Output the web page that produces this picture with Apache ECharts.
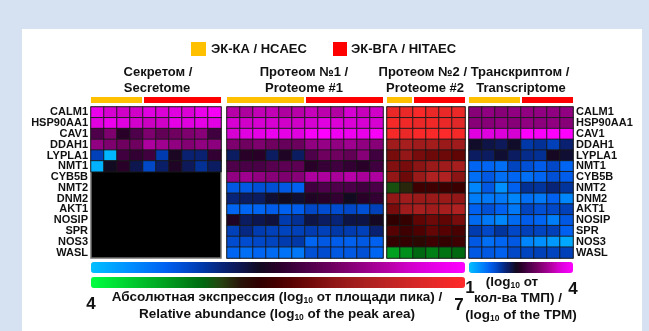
<!DOCTYPE html>
<html>
<head>
<meta charset="utf-8">
<script src="https://cdn.jsdelivr.net/npm/echarts@6/dist/echarts.min.js"></script>
<style>
  html, body { margin: 0; padding: 0; background: #d6e2f2; }
  #chart { position: absolute; left: 0; top: 0; width: 649px; height: 331px; }
</style>
</head>
<body>
<div id="chart"></div>
<script>
// Genes (rows, top to bottom)
const genes = ['CALM1', 'HSP90AA1', 'CAV1', 'DDAH1', 'LYPLA1', 'NMT1', 'CYB5B',
               'NMT2', 'DNM2', 'AKT1', 'NOSIP', 'SPR', 'NOS3', 'WASL'];

// Samples per dataset: HCAEC replicates followed by HITAEC replicates
const secretomeSamples = ['HCAEC-1', 'HCAEC-2', 'HCAEC-3', 'HCAEC-4',
  'HITAEC-1', 'HITAEC-2', 'HITAEC-3', 'HITAEC-4', 'HITAEC-5', 'HITAEC-6'];
const proteome1Samples = ['HCAEC-1', 'HCAEC-2', 'HCAEC-3', 'HCAEC-4', 'HCAEC-5', 'HCAEC-6',
  'HITAEC-1', 'HITAEC-2', 'HITAEC-3', 'HITAEC-4', 'HITAEC-5', 'HITAEC-6'];
const proteome2Samples = ['HCAEC-1', 'HCAEC-2',
  'HITAEC-1', 'HITAEC-2', 'HITAEC-3', 'HITAEC-4'];
const transcriptomeSamples = ['HCAEC-1', 'HCAEC-2', 'HCAEC-3', 'HCAEC-4',
  'HITAEC-1', 'HITAEC-2', 'HITAEC-3', 'HITAEC-4'];

// Number of HCAEC samples in each dataset
const hcaecCounts = [4, 6, 2, 4];

// Secretome, log10 of peak area ('-' = not detected)
const secretome = [
  [6.79, 6.61, 6.55, 6.55, 6.70, 6.64, 6.70, 6.64, 6.79, 6.91],
  [6.70, 6.82, 6.70, 6.58, 6.52, 6.55, 6.76, 6.70, 6.76, 6.73],
  [5.74, 6.04, 5.50, 5.74, 6.04, 5.86, 5.95, 6.04, 6.10, 5.65],
  [6.16, 6.04, 5.95, 5.95, 6.34, 6.25, 6.16, 6.07, 6.16, 6.13],
  [4.84, 4.06, 5.65, 5.56, 5.65, 4.87, 5.41, 5.08, 5.08, 5.56],
  [4.09, 5.35, 5.50, 5.20, 4.78, 5.11, 5.44, 5.17, 4.96, 5.14],
  ['-', '-', '-', '-', '-', '-', '-', '-', '-', '-'],
  ['-', '-', '-', '-', '-', '-', '-', '-', '-', '-'],
  ['-', '-', '-', '-', '-', '-', '-', '-', '-', '-'],
  ['-', '-', '-', '-', '-', '-', '-', '-', '-', '-'],
  ['-', '-', '-', '-', '-', '-', '-', '-', '-', '-'],
  ['-', '-', '-', '-', '-', '-', '-', '-', '-', '-'],
  ['-', '-', '-', '-', '-', '-', '-', '-', '-', '-'],
  ['-', '-', '-', '-', '-', '-', '-', '-', '-', '-']
];

// Proteome #1, log10 of peak area
const proteome1 = [
  [6.40, 6.34, 6.46, 6.46, 6.34, 6.40, 6.49, 6.43, 6.37, 6.61, 6.49, 6.55],
  [6.61, 6.55, 6.61, 6.61, 6.55, 6.55, 6.61, 6.70, 6.64, 6.64, 6.61, 6.61],
  [6.61, 6.70, 6.76, 6.82, 6.76, 6.70, 6.91, 7.00, 6.85, 6.85, 6.79, 6.94],
  [6.04, 5.95, 6.04, 5.95, 5.89, 5.92, 6.16, 6.19, 6.16, 6.25, 6.16, 6.10],
  [5.14, 5.50, 5.50, 5.14, 5.44, 5.14, 5.74, 5.95, 5.95, 5.86, 6.10, 5.65],
  [5.74, 5.71, 5.71, 5.80, 5.83, 5.83, 5.50, 5.59, 5.65, 5.56, 5.50, 5.65],
  [6.16, 6.25, 6.16, 6.10, 6.04, 6.10, 6.34, 6.34, 6.31, 6.40, 6.31, 6.34],
  [4.66, 4.66, 4.72, 4.72, 4.66, 4.60, 5.65, 5.74, 5.74, 5.71, 5.65, 5.71],
  [5.05, 5.14, 5.14, 5.29, 5.35, 5.29, 5.44, 5.50, 5.56, 5.35, 5.50, 5.56],
  [4.57, 4.57, 4.57, 4.63, 4.60, 4.63, 4.78, 4.75, 4.75, 4.78, 4.72, 4.84],
  [5.44, 5.14, 5.20, 5.26, 4.87, 4.96, 5.23, 5.14, 5.05, 5.23, 5.23, 5.38],
  [4.84, 5.02, 4.87, 4.84, 4.81, 4.84, 4.87, 4.84, 4.90, 4.87, 4.84, 5.08],
  [4.75, 4.75, 4.78, 4.81, 4.87, 4.90, 4.57, 4.66, 4.63, 4.60, 4.66, 4.60],
  [4.57, 4.51, 4.57, 4.54, 4.48, 4.45, 4.72, 4.75, 4.66, 4.66, 4.72, 4.57]
];

// Proteome #2, log10 of peak area
const proteome2 = [
  [6.79, 6.79, 6.94, 6.79, 6.79, 6.79],
  [6.91, 6.85, 6.79, 6.85, 6.79, 6.70],
  [6.91, 6.79, 6.94, 6.94, 6.97, 6.91],
  [6.10, 6.16, 6.10, 6.13, 6.04, 6.10],
  [5.80, 5.98, 5.80, 5.74, 5.74, 5.65],
  [5.86, 5.80, 5.92, 6.04, 6.10, 6.16],
  [5.98, 5.74, 6.04, 6.25, 6.25, 5.92],
  [4.99, 5.14, 5.44, 5.44, 5.41, 5.41],
  [5.98, 6.10, 6.04, 6.04, 6.04, 5.98],
  [5.80, 6.10, 6.16, 6.10, 6.16, 6.25],
  [5.35, 5.38, 5.65, 5.74, 5.65, 5.80],
  [5.59, 5.44, 5.53, 5.68, 5.59, 5.50],
  [5.38, 5.38, 5.29, 5.44, 5.38, 5.44],
  [4.60, 4.69, 4.90, 4.78, 4.84, 4.90]
];

// Transcriptome, log10 of TPM
const transcriptome = [
  [3.10, 3.16, 3.10, 3.16, 3.16, 3.16, 3.16, 3.16],
  [3.10, 3.10, 3.16, 3.10, 3.16, 3.13, 3.16, 3.10],
  [3.70, 3.70, 3.67, 3.61, 4.00, 3.94, 4.00, 4.00],
  [2.32, 2.23, 2.17, 2.32, 1.90, 1.96, 1.84, 2.08],
  [2.14, 2.14, 2.29, 2.14, 1.99, 1.96, 2.38, 2.29],
  [1.57, 1.57, 1.51, 1.81, 1.72, 1.63, 1.78, 1.57],
  [1.51, 1.66, 1.51, 1.57, 1.51, 1.57, 1.72, 1.63],
  [1.36, 1.66, 1.30, 1.60, 1.96, 1.93, 2.05, 1.93],
  [1.42, 1.45, 1.45, 1.36, 1.51, 1.45, 1.60, 1.36],
  [1.60, 1.72, 1.60, 1.45, 1.81, 1.72, 1.78, 1.84],
  [1.54, 1.45, 1.36, 1.54, 1.63, 1.57, 1.42, 1.66],
  [1.87, 1.78, 1.93, 1.78, 1.84, 1.81, 1.84, 1.60],
  [1.66, 1.51, 1.57, 1.66, 1.36, 1.30, 1.24, 1.15],
  [1.66, 1.66, 1.60, 1.78, 1.81, 1.84, 1.81, 1.84]
];

// Colour-scale limits
const abundanceRange = [4, 7];
const tpmRange = [1, 4];

// Colour ramps
const blueMagenta = ['#00c0ff', '#00a8ff', '#0090ff', '#0078f8', '#0060f0', '#004cd0', '#0038a8',
  '#082478', '#0e1650', '#120a20', '#280028', '#400040', '#580050', '#700060', '#880078',
  '#a00090', '#b800a8', '#d000c8', '#e000e0', '#f000f0', '#ff00ff'];
const greenRed = ['#00ff40', '#00e838', '#00d030', '#00b828', '#00a020', '#008418', '#006810',
  '#284010', '#281408', '#300000', '#480000', '#600404', '#780c0c', '#901616', '#a01c1c',
  '#b02222', '#c02424', '#d02626', '#e02828', '#f02828', '#ff2a2a'];

const FONT = '"Liberation Sans", Arial, sans-serif';
const HCAEC_COLOR = '#ffc000';
const HITAEC_COLOR = '#ff0000';

const blocks = [
  { samples: secretomeSamples, values: secretome, left: 91, width: 130, bg: '#000' },
  { samples: proteome1Samples, values: proteome1, left: 227, width: 156 },
  { samples: proteome2Samples, values: proteome2, left: 387, width: 78 },
  { samples: transcriptomeSamples, values: transcriptome, left: 469, width: 104 }
];
const gridTop = 107, gridHeight = 151;

function toCells(values) {
  const out = [];
  values.forEach((row, r) => row.forEach((v, c) => out.push([c, r, v])));
  return out;
}

const chart = echarts.init(document.getElementById('chart'), null, { renderer: 'canvas' });

const option = {
  backgroundColor: 'transparent',
  animation: false,
  grid: blocks.map(b => ({
    left: b.left, top: gridTop, width: b.width, height: gridHeight,
    show: true, backgroundColor: b.bg || 'transparent',
    borderColor: '#707070', borderWidth: 1.5, containLabel: false
  })),
  xAxis: blocks.map((b, i) => ({
    type: 'category', gridIndex: i, data: b.samples,
    axisLine: { show: false }, axisTick: { show: false }, axisLabel: { show: false },
    splitLine: { show: false }
  })),
  yAxis: blocks.map((b, i) => ({
    type: 'category', gridIndex: i, data: genes, inverse: true,
    position: i === 3 ? 'right' : 'left',
    axisLine: { show: false }, axisTick: { show: false }, splitLine: { show: false },
    axisLabel: {
      show: i === 0 || i === 3, interval: 0, margin: 3, color: '#111',
      fontFamily: FONT, fontWeight: 'bold', fontSize: 11
    }
  })),
  visualMap: [
    {
      type: 'continuous', seriesIndex: [0, 1], min: abundanceRange[0], max: abundanceRange[1],
      orient: 'horizontal', left: 91, top: 262, itemWidth: 11, itemHeight: 374,
      calculable: false, hoverLink: false, padding: 0, text: null,
      inRange: { color: blueMagenta }
    },
    {
      type: 'continuous', seriesIndex: 2, min: abundanceRange[0], max: abundanceRange[1],
      orient: 'horizontal', left: 91, top: 277, itemWidth: 11, itemHeight: 374,
      calculable: false, hoverLink: false, padding: 0, text: null,
      inRange: { color: greenRed }
    },
    {
      type: 'continuous', seriesIndex: 3, min: tpmRange[0], max: tpmRange[1],
      orient: 'horizontal', left: 469, top: 262, itemWidth: 11, itemHeight: 104,
      calculable: false, hoverLink: false, padding: 0, text: null,
      inRange: { color: blueMagenta }
    }
  ],
  series: blocks.map((b, i) => ({
    type: 'heatmap', xAxisIndex: i, yAxisIndex: i,
    data: toCells(b.values),
    itemStyle: { borderColor: 'rgba(25,25,25,0.9)', borderWidth: 1 },
    emphasis: { disabled: true }
  }))
};

chart.setOption(option);

// Text and group markers
function txt(x, y, text, size, align, extra) {
  return {
    type: 'text', x: x, y: y, z: 10,
    style: Object.assign({
      text: text, fill: '#111', font: 'bold ' + size + 'px ' + FONT,
      align: align || 'center', verticalAlign: 'middle'
    }, extra || {})
  };
}
const sub = { s: { fontSize: 8.5, fontWeight: 'bold', fontFamily: FONT, verticalAlign: 'bottom', lineHeight: 8 } };
const capStyle = { rich: sub, lineHeight: 16 };

const graphics = [
  // white panel
  { type: 'rect', z: -10, shape: { x: 22, y: 29, width: 620, height: 310 }, style: { fill: '#ffffff' } },
  // legend
  { type: 'rect', z: 10, shape: { x: 191, y: 42, width: 15, height: 14 }, style: { fill: HCAEC_COLOR } },
  txt(211, 49, 'ЭК-КА / HCAEC', 13, 'left'),
  { type: 'rect', z: 10, shape: { x: 333, y: 42, width: 14, height: 14 }, style: { fill: HITAEC_COLOR } },
  txt(351, 49, 'ЭК-ВГА / HITAEC', 13, 'left'),
  // dataset titles
  txt(158, 72, 'Секретом /', 13),
  txt(157, 88, 'Secretome', 13),
  txt(304, 72, 'Протеом №1 /', 13),
  txt(304, 88, 'Proteome #1', 13),
  txt(474, 72, 'Протеом №2 / Транскриптом /', 13),
  txt(425, 88, 'Proteome #2', 13),
  txt(521, 88, 'Transcriptome', 13),
  // colour-scale captions
  txt(91, 304, '4', 17),
  txt(459, 305, '7', 17),
  txt(470, 288, '1', 17),
  txt(573, 289, '4', 17),
  txt(277, 297, 'Абсолютная экспрессия (log{s|10} от площади пика) /', 13.5, 'center', capStyle),
  txt(277, 314, 'Relative abundance (log{s|10} of the peak area)', 13.5, 'center', capStyle),
  txt(512, 282, '(log{s|10} от', 13.5, 'center', capStyle),
  txt(518, 298, 'кол-ва ТМП) /', 13.5, 'center', capStyle),
  txt(521, 315, '(log{s|10} of the TPM)', 13.5, 'center', capStyle)
];

// Group markers above each dataset, placed from the category axes
blocks.forEach((b, i) => {
  const c0 = chart.convertToPixel({ xAxisIndex: i }, 0);
  const c1 = chart.convertToPixel({ xAxisIndex: i }, 1);
  const w = c1 - c0;
  const x0 = c0 - w / 2;
  const n = b.samples.length, k = hcaecCounts[i];
  graphics.push({ type: 'rect', z: 10, shape: { x: x0, y: 97, width: k * w - 1, height: 6 }, style: { fill: HCAEC_COLOR } });
  graphics.push({ type: 'rect', z: 10, shape: { x: x0 + k * w + 1, y: 97, width: (n - k) * w - 1, height: 6 }, style: { fill: HITAEC_COLOR } });
});

chart.setOption({ graphic: { elements: graphics } });
</script>
</body>
</html>
